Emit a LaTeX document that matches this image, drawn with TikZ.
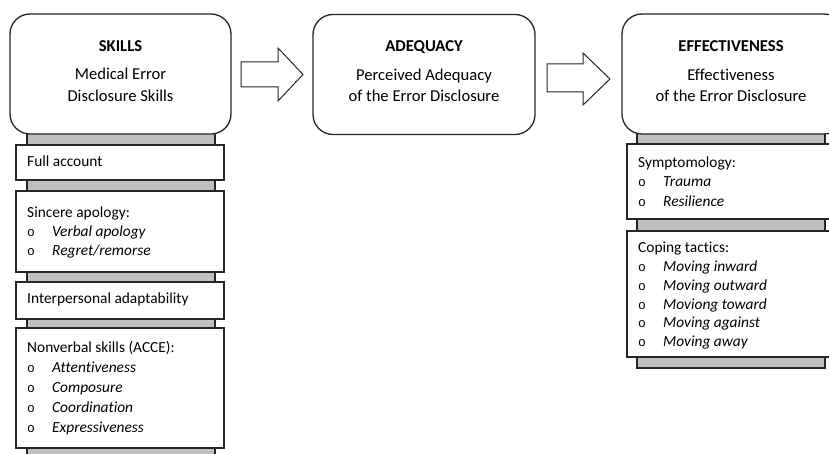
\documentclass[tikz,border=0pt]{standalone}
\usepackage{fontspec}
\setmainfont{Carlito}[Ligatures={TeX,NoCommon}]
\newfontfamily\bulletfont{Liberation Mono}
\newcommand\bl[1]{\makebox[25pt][l]{\fontsize{13}{13}\selectfont\bulletfont o}\textit{#1}}
\newcommand\leftlines[1]{\vtop{\halign{##\hfil\cr#1\crcr}}}
\newcommand\midlines[1]{\vtop{\halign{\hfil##\hfil\cr#1\crcr}}}
\tikzset{
  basestroke/.style={line width=1.3pt, draw=black!85},
  headbox/.style={basestroke, rounded corners=20pt, fill=white, minimum width=221pt, minimum height=120pt, inner sep=0pt},
  itembox/.style={basestroke, fill=white, minimum width=208pt, inner sep=0pt},
  graybar/.style={basestroke, fill=gray!50, minimum width=188pt, inner sep=0pt},
  blockarrow/.style={line width=1pt, draw=black!85, fill=white, line join=miter},
  headtitle/.style={font=\fontsize{16.6}{21}\selectfont\bfseries, inner sep=0pt, anchor=base},
  headsub/.style={font=\fontsize{16.6}{21.3}\selectfont, inner sep=0pt, anchor=base},
  itemtext/.style={font=\fontsize{15.4}{18.8}\selectfont, inner sep=0pt, anchor=base west},
}
\begin{document}
\begin{tikzpicture}[x=1pt,y=-1pt]
\useasboundingbox (0,0) rectangle (829,454);
% left column
\node[graybar, minimum height=342pt] (lbar) at (121,299) {};
\node[headbox] (skills) at (120.5,74) {};
\node[headtitle] (skillsT) at (120.5,51.7) {SKILLS};
\node[headsub] (skillsS) at (120.5,80) {\midlines{Medical Error\cr Disclosure Skills}};
\node[itembox, minimum height=35pt] (fa) at (120,162.5) {};
\node[itemtext] (faT) at (27,166.5) {Full account};
\node[itembox, minimum height=81pt] (sa) at (120,231.5) {};
\node[itemtext] (saT) at (27,217.5) {\leftlines{Sincere apology:\cr \bl{Verbal apology}\cr \bl{Regret/remorse}}};
\node[itembox, minimum height=37pt] (ia) at (120,300.5) {};
\node[itemtext] (iaT) at (27,303) {Interpersonal adaptability};
\node[itembox, minimum height=120pt] (nv) at (120,388) {};
\node[itemtext, font=\fontsize{15.4}{20}\selectfont] (nvT) at (27,352.3) {\leftlines{Nonverbal skills (ACCE):\cr \bl{Attentiveness}\cr \bl{Composure}\cr \bl{Coordination}\cr \bl{Expressiveness}}};
% middle
\node[headbox, minimum width=222pt] (adeq) at (424,74.5) {};
\node[headtitle] (adeqT) at (424,51.7) {ADEQUACY};
\node[headsub] (adeqS) at (424,80.5) {\midlines{Perceived Adequacy\cr of the Error Disclosure}};
% right column
\node[graybar, minimum height=240pt] (rbar) at (731,248) {};
\node[headbox, minimum width=222pt] (eff) at (733,74) {};
\node[headtitle] (effT) at (731,51.7) {EFFECTIVENESS};
\node[headsub] (effS) at (731,80.5) {\midlines{Effectiveness\cr of the Error Disclosure}};
\node[itembox, minimum height=75pt] (sy) at (731,181.5) {};
\node[itemtext, font=\fontsize{15.4}{19.6}\selectfont] (syT) at (638,167.3) {\leftlines{Symptomology:\cr \bl{Trauma}\cr \bl{Resilience}}};
\node[itembox, minimum height=126pt] (ct) at (731,294) {};
\node[itemtext] (ctT) at (638,252.7) {\leftlines{Coping tactics:\cr \bl{Moving inward}\cr \bl{Moving outward}\cr \bl{Moviong toward}\cr \bl{Moving against}\cr \bl{Moving away}}};
% block arrows
\draw[blockarrow] (241,62) -- (278,62) -- (278,48) -- (303,74.5) -- (278,101) -- (278,87) -- (241,87) -- cycle;
\draw[blockarrow] (547,64) -- (583,64) -- (583,53) -- (610,79) -- (583,105) -- (583,92) -- (547,92) -- cycle;
\end{tikzpicture}
\end{document}
